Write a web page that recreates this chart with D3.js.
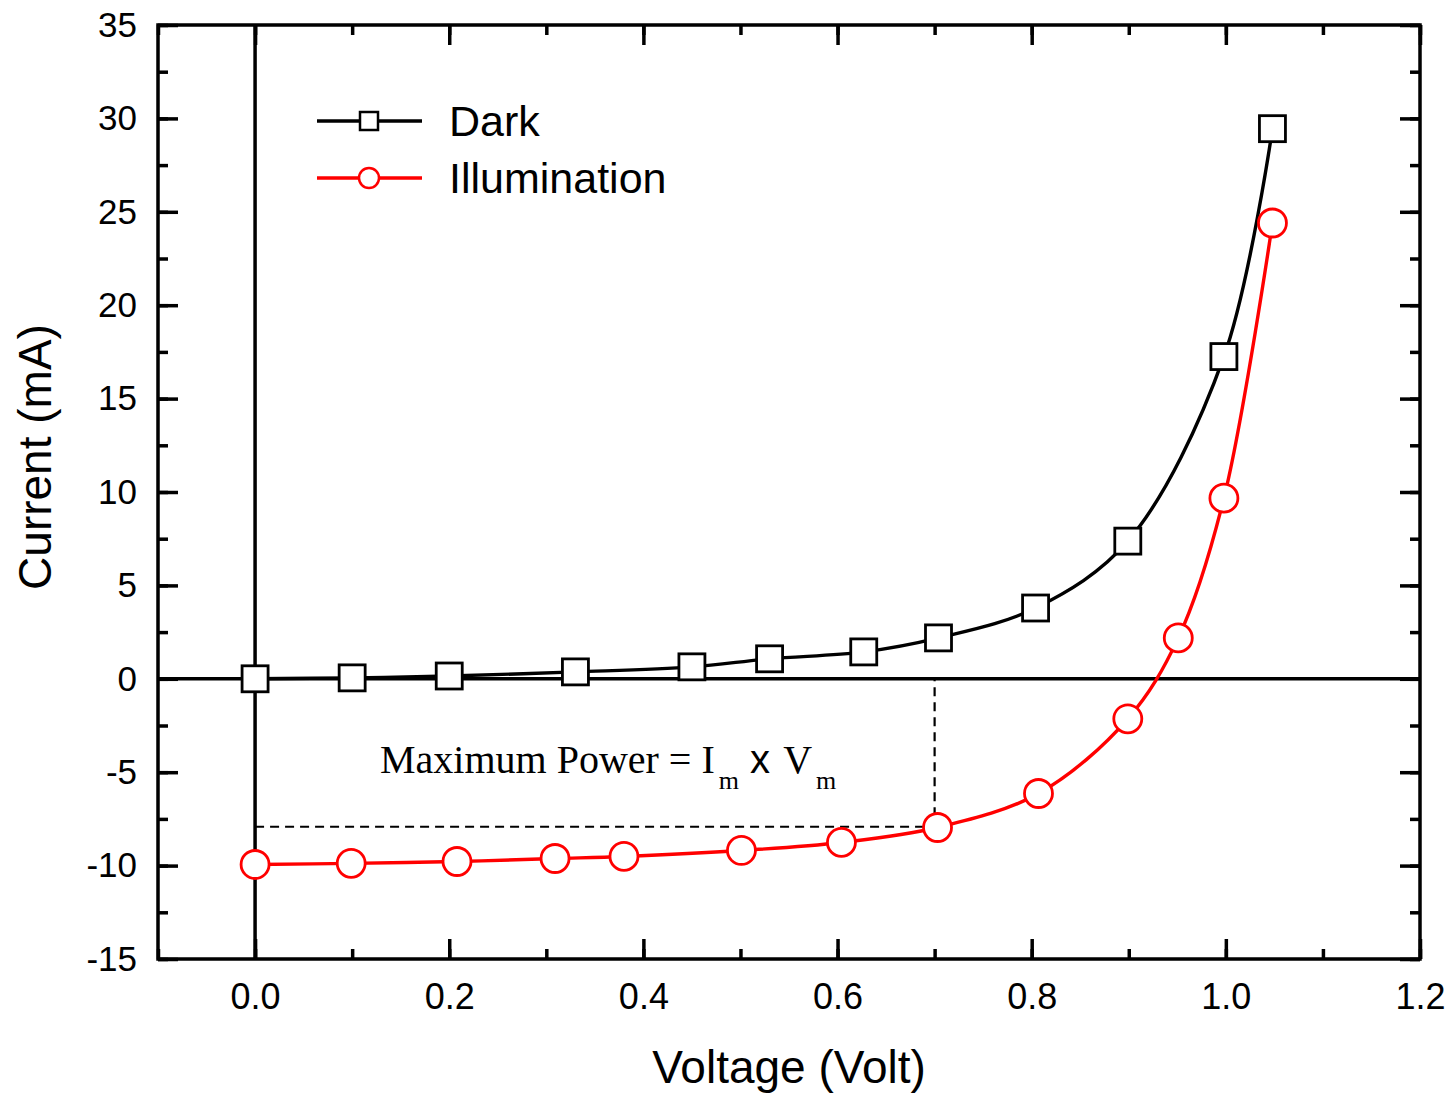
<!DOCTYPE html>
<html>
<head>
<meta charset="utf-8">
<script src="https://cdn.jsdelivr.net/npm/d3@7"></script>
<style>
  html, body { margin: 0; padding: 0; background: #fff; }
  svg { display: block; }
  text { font-family: "Liberation Sans", Arial, sans-serif; fill: #000; }
</style>
</head>
<body>
<svg id="chart" width="1454" height="1094"></svg>
<script>
// I-V characteristics of a solar cell, dark and under illumination
const darkV = [0.0, 0.10, 0.20, 0.33, 0.45, 0.53, 0.627, 0.704, 0.804, 0.899, 0.998, 1.048];
const darkI = [0.0, 0.05, 0.15, 0.37, 0.64, 1.07, 1.44, 2.19, 3.79, 7.37, 17.25, 29.45];
const illumV = [0.0, 0.099, 0.208, 0.309, 0.380, 0.501, 0.604, 0.703, 0.807, 0.899, 0.951, 0.998, 1.048];
const illumI = [-9.94, -9.88, -9.78, -9.62, -9.51, -9.19, -8.76, -7.96, -6.14, -2.14, 2.19, 9.67, 24.4];
const xTicks = [0.0, 0.2, 0.4, 0.6, 0.8, 1.0, 1.2];
const yTicks = [-15, -10, -5, 0, 5, 10, 15, 20, 25, 30, 35];
const maxPowerV = 0.70;
const maxPowerI = -7.92;
const seriesNames = ["Dark", "Illumination"];

const svg = d3.select("#chart");
const L = 158, R = 1420, T = 25, B = 959;

const x = d3.scaleLinear().domain([-0.1, 1.2]).range([L, R]);
const y = d3.scaleLinear().domain([-15, 35]).range([B, T]);

const xMinor = d3.range(-0.1, 1.2001, 0.1).map(v => +v.toFixed(2));
const yMinor = d3.range(-15, 35.001, 2.5);

// tick marks on all four sides, pointing inward
function tickAxis(axisFn, scale, values, size, transform) {
  const g = svg.append("g").attr("transform", transform)
    .call(axisFn(scale).tickValues(values).tickSize(size).tickFormat(""));
  g.select(".domain").remove();
  g.selectAll("line").attr("stroke", "#000").attr("stroke-width", 3.5);
  return g;
}
tickAxis(d3.axisBottom, x, xMinor, -10, `translate(0,${B})`);
tickAxis(d3.axisBottom, x, xTicks, -20, `translate(0,${B})`);
tickAxis(d3.axisTop, x, xMinor, -10, `translate(0,${T})`);
tickAxis(d3.axisTop, x, xTicks, -20, `translate(0,${T})`);
tickAxis(d3.axisLeft, y, yMinor, -10, `translate(${L},0)`);
tickAxis(d3.axisLeft, y, yTicks, -20, `translate(${L},0)`);
tickAxis(d3.axisRight, y, yMinor, -10, `translate(${R},0)`);
tickAxis(d3.axisRight, y, yTicks, -20, `translate(${R},0)`);

// tick labels
const xl = svg.append("g").attr("transform", `translate(0,${B})`)
  .call(d3.axisBottom(x).tickValues(xTicks).tickSize(0).tickPadding(24).tickFormat(d => d.toFixed(1)));
xl.select(".domain").remove();
xl.selectAll("text").style("font-size", "36px").style("font-family", "Liberation Sans, Arial, sans-serif");

const yl = svg.append("g").attr("transform", `translate(${L},0)`)
  .call(d3.axisLeft(y).tickValues(yTicks).tickSize(0).tickPadding(21).tickFormat(d => String(d)));
yl.select(".domain").remove();
yl.selectAll("text").style("font-size", "35px").style("font-family", "Liberation Sans, Arial, sans-serif");

// reference lines at I = 0 and V = 0
svg.append("line").attr("x1", L).attr("x2", R).attr("y1", y(0)).attr("y2", y(0))
  .attr("stroke", "#000").attr("stroke-width", 3.5);
svg.append("line").attr("x1", x(0)).attr("x2", x(0)).attr("y1", T).attr("y2", B)
  .attr("stroke", "#000").attr("stroke-width", 3.5);

// maximum power point guides
svg.append("path")
  .attr("d", `M${x(0)},${y(maxPowerI)}H${x(maxPowerV)}V${y(0)}`)
  .attr("fill", "none").attr("stroke", "#000").attr("stroke-width", 2.2)
  .attr("stroke-dasharray", "9,6");

// frame
svg.append("rect").attr("x", L).attr("y", T).attr("width", R - L).attr("height", B - T)
  .attr("fill", "none").attr("stroke", "#000").attr("stroke-width", 3.5);

const line = d3.line().x(d => x(d[0])).y(d => y(d[1])).curve(d3.curveCatmullRom.alpha(0.5));
const darkPts = darkV.map((v, i) => [v, darkI[i]]);
const illumPts = illumV.map((v, i) => [v, illumI[i]]);

svg.append("path").attr("d", line(darkPts)).attr("fill", "none")
  .attr("stroke", "#000").attr("stroke-width", 3.4);
svg.append("path").attr("d", line(illumPts)).attr("fill", "none")
  .attr("stroke", "#ff0000").attr("stroke-width", 3.4);

const sq = 26;
svg.append("g").selectAll("rect").data(darkPts).join("rect")
  .attr("x", d => x(d[0]) - sq / 2).attr("y", d => y(d[1]) - sq / 2)
  .attr("width", sq).attr("height", sq)
  .attr("fill", "#fff").attr("stroke", "#000").attr("stroke-width", 2.8);
svg.append("g").selectAll("circle").data(illumPts).join("circle")
  .attr("cx", d => x(d[0])).attr("cy", d => y(d[1])).attr("r", 14)
  .attr("fill", "#fff").attr("stroke", "#ff0000").attr("stroke-width", 2.8);

// legend
const lg = svg.append("g");
const legendRows = [
  { name: seriesNames[0], color: "#000", y: 121, shape: "square" },
  { name: seriesNames[1], color: "#ff0000", y: 178, shape: "circle" }
];
legendRows.forEach(r => {
  lg.append("line").attr("x1", 317).attr("x2", 422).attr("y1", r.y).attr("y2", r.y)
    .attr("stroke", r.color).attr("stroke-width", 3.4);
  if (r.shape === "square") {
    lg.append("rect").attr("x", 360).attr("y", r.y - 9).attr("width", 18).attr("height", 18)
      .attr("fill", "#fff").attr("stroke", r.color).attr("stroke-width", 2.5);
  } else {
    lg.append("circle").attr("cx", 369).attr("cy", r.y).attr("r", 10)
      .attr("fill", "#fff").attr("stroke", r.color).attr("stroke-width", 2.5);
  }
  lg.append("text").attr("x", 449).attr("y", r.y + 15).style("font-size", "43px").text(r.name);
});

// annotation
const ann = svg.append("text").attr("x", 380).attr("y", 773)
  .style("font-family", "Liberation Serif, Times New Roman, serif").style("font-size", "40px");
ann.append("tspan").text("Maximum Power = I");
ann.append("tspan").attr("dx", 4).attr("dy", 16).style("font-size", "26px").text("m");
ann.append("tspan").attr("dy", -16).style("font-family", "Liberation Sans, Arial, sans-serif").text(" x ");
ann.append("tspan").attr("dx", 2).text("V");
ann.append("tspan").attr("dx", 4).attr("dy", 16).style("font-size", "26px").text("m");

// axis titles
svg.append("text").attr("x", 789).attr("y", 1083).attr("text-anchor", "middle")
  .style("font-size", "46px").text("Voltage (Volt)");
svg.append("text").attr("transform", `translate(51,457) rotate(-90)`)
  .attr("text-anchor", "middle").style("font-size", "46px").text("Current (mA)");
</script>
</body>
</html>
